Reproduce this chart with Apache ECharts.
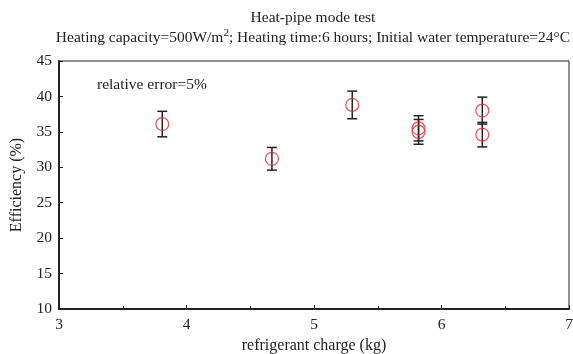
<!DOCTYPE html>
<html>
<head>
<meta charset="utf-8">
<script src="https://cdn.jsdelivr.net/npm/echarts@6/dist/echarts.min.js"></script>
<style>html,body{margin:0;padding:0;background:#fff;}#c{width:573px;height:354px;}</style>
</head>
<body>
<div id="c"></div>
<script>
var charge = [3.81, 4.67, 5.30, 5.82, 5.82, 6.32, 6.32];
var efficiency = [36.1, 31.2, 38.8, 35.5, 35.0, 38.0, 34.6];
var errorHalf = [1.8, 1.6, 1.95, 1.78, 1.75, 1.9, 1.73];
var xTicks = [3, 4, 5, 6, 7];
var yTicks = [10, 15, 20, 25, 30, 35, 40, 45];

var FONT = 'Liberation Serif';
var scatterData = charge.map(function (x, i) { return [x, efficiency[i]]; });
var errData = charge.map(function (x, i) { return [x, efficiency[i] - errorHalf[i], efficiency[i] + errorHalf[i]]; });

var chart = echarts.init(document.getElementById('c'));
chart.setOption({
  animation: false,
  backgroundColor: '#fff',
  title: {
    text: 'Heat-pipe mode test',
    subtext: '{n|Heating capacity=500W/m}{s|2}{n|; Heating time:6 hours; Initial water temperature=24°C}',
    left: 308, textAlign: 'center', top: 5, itemGap: 2,
    textStyle: { fontFamily: FONT, fontSize: 15.5, fontWeight: 'normal', color: '#222' },
    subtextStyle: {
      rich: {
        n: { fontFamily: FONT, fontSize: 15.5, color: '#222' },
        s: { fontFamily: FONT, fontSize: 11, color: '#222', verticalAlign: 'top', padding: [0, 0, 8, 0] }
      }
    }
  },
  graphic: [{
    type: 'text', left: 97, top: 77,
    style: { text: 'relative error=5%', fontFamily: FONT, fontSize: 15.5, fill: '#222' }
  }],
  grid: { left: 59, right: 4, top: 61, bottom: 45, outerBoundsMode: 'none', containLabel: false, show: true, borderColor: '#222', borderWidth: 1 },
  xAxis: {
    type: 'value', min: xTicks[0], max: xTicks[xTicks.length - 1], interval: 1,
    name: 'refrigerant charge (kg)', nameLocation: 'middle', nameGap: 27,
    nameTextStyle: { fontFamily: FONT, fontSize: 16, color: '#222' },
    axisLine: { show: true, lineStyle: { color: '#222', width: 2 } },
    axisTick: { show: true, inside: true, length: 4, lineStyle: { color: '#222' } },
    minorTick: { show: true, splitNumber: 2, length: 3, lineStyle: { color: '#222' } },
    axisLabel: { fontFamily: FONT, fontSize: 15.5, color: '#222', margin: 8 },
    splitLine: { show: false }
  },
  yAxis: {
    type: 'value', min: yTicks[0], max: yTicks[yTicks.length - 1], interval: 5,
    name: 'Efficiency (%)', nameLocation: 'middle', nameGap: 34,
    nameTextStyle: { fontFamily: FONT, fontSize: 16, color: '#222' },
    axisLine: { show: true, lineStyle: { color: '#222', width: 2 } },
    axisTick: { show: true, inside: true, length: 4, lineStyle: { color: '#222' } },
    axisLabel: { fontFamily: FONT, fontSize: 15.5, color: '#222', margin: 7 },
    splitLine: { show: false }
  },
  series: [{
    type: 'custom',
    data: errData,
    renderItem: function (params, api) {
      var x = api.value(0);
      var lo = api.coord([x, api.value(1)]);
      var hi = api.coord([x, api.value(2)]);
      var w = 5;
      var st = { stroke: '#222', lineWidth: 1.5 };
      return {
        type: 'group',
        children: [
          { type: 'line', shape: { x1: lo[0], y1: lo[1], x2: hi[0], y2: hi[1] }, style: st },
          { type: 'line', shape: { x1: lo[0] - w, y1: lo[1], x2: lo[0] + w, y2: lo[1] }, style: st },
          { type: 'line', shape: { x1: hi[0] - w, y1: hi[1], x2: hi[0] + w, y2: hi[1] }, style: st }
        ]
      };
    },
    z: 2
  }, {
    type: 'scatter',
    data: scatterData,
    symbol: 'circle', symbolSize: 13,
    itemStyle: { color: 'rgba(0,0,0,0)', borderColor: '#e8262b', borderWidth: 1.2 },
    z: 3
  }]
});
</script>
</body>
</html>
